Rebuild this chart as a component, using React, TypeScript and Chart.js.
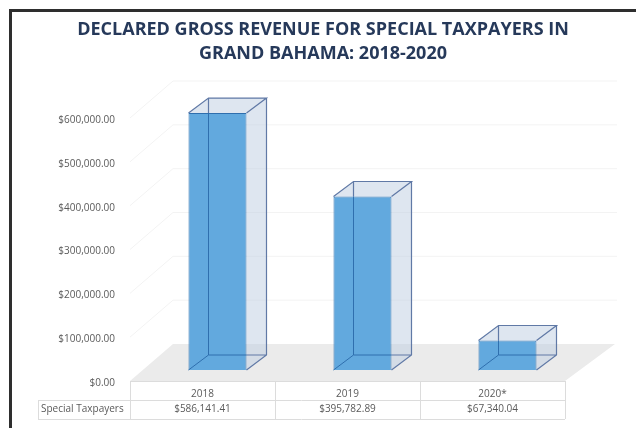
import React, { useEffect, useRef } from "react";
import { Chart, registerables } from "chart.js";

Chart.register(...registerables);

const titleLines = ["DECLARED GROSS REVENUE FOR SPECIAL TAXPAYERS IN", "GRAND BAHAMA: 2018-2020"];
const categories = ["2018", "2019", "2020*"];
const seriesName = "Special Taxpayers";
const seriesValues = [586141.41, 395782.89, 67340.04];
const yMax = 600000;
const yStep = 100000;

const FONT = "'Open Sans', sans-serif";
const money = (v: number) =>
  "$" + v.toLocaleString("en-US", { minimumFractionDigits: 2, maximumFractionDigits: 2 });

// Oblique projection used for the fake 3-D look
const BOX_DX = 20;
const BOX_DY = -15;
const FLOOR_DX = 43;
const FLOOR_DY = -37;
const FRONT_SHIFT_X = -15; // table / floor front edge relative to plot area
const FRONT_SHIFT_Y = 11;

const line = (c: CanvasRenderingContext2D, x1: number, y1: number, x2: number, y2: number) => {
  c.beginPath();
  c.moveTo(x1, y1);
  c.lineTo(x2, y2);
  c.stroke();
};

const scene = {
  id: "scene",
  beforeDatasetsDraw(chart: any) {
    const c: CanvasRenderingContext2D = chart.ctx;
    const { chartArea: a, scales } = chart;
    const y = scales.y;
    const fl = a.left + FRONT_SHIFT_X;
    const fr = a.right + FRONT_SHIFT_X;
    const fy = a.bottom + FRONT_SHIFT_Y;
    c.save();
    // back wall grid
    c.strokeStyle = "#f3f3f3";
    c.lineWidth = 1;
    y.ticks.forEach((t: any) => {
      const p = y.getPixelForValue(t.value) + FRONT_SHIFT_Y;
      if (t.value > 0) {
        line(c, fl, p, fl + FLOOR_DX, p + FLOOR_DY);
        line(c, fl + FLOOR_DX, p + FLOOR_DY, fr + 52, p + FLOOR_DY);
      }
    });
    // floor
    c.fillStyle = "#ebebeb";
    c.beginPath();
    c.moveTo(fl, fy);
    c.lineTo(fl + FLOOR_DX, fy + FLOOR_DY);
    c.lineTo(fr + 50, fy + FLOOR_DY);
    c.lineTo(fr, fy);
    c.closePath();
    c.fill();
    // boxes behind the front face
    chart.getDatasetMeta(0).data.forEach((b: any) => {
      const l = b.x - b.width / 2;
      const r = b.x + b.width / 2;
      const t = b.y;
      const bt = b.base;
      c.fillStyle = "rgba(190,205,225,0.5)";
      c.beginPath();
      c.moveTo(r, t);
      c.lineTo(r + BOX_DX, t + BOX_DY);
      c.lineTo(r + BOX_DX, bt + BOX_DY);
      c.lineTo(r, bt);
      c.closePath();
      c.fill();
      c.beginPath();
      c.moveTo(l, t);
      c.lineTo(l + BOX_DX, t + BOX_DY);
      c.lineTo(r + BOX_DX, t + BOX_DY);
      c.lineTo(r, t);
      c.closePath();
      c.fill();
      c.strokeStyle = "#6079a6";
      c.lineWidth = 1.2;
      c.beginPath();
      c.moveTo(l, t);
      c.lineTo(l + BOX_DX, t + BOX_DY);
      c.lineTo(r + BOX_DX, t + BOX_DY);
      c.lineTo(r, t);
      c.moveTo(r + BOX_DX, t + BOX_DY);
      c.lineTo(r + BOX_DX, bt + BOX_DY);
      c.lineTo(r, bt);
      c.moveTo(l + BOX_DX, t + BOX_DY);
      c.lineTo(l + BOX_DX, t);
      c.moveTo(r, bt + BOX_DY);
      c.lineTo(r + BOX_DX, bt + BOX_DY);
      c.stroke();
    });
    c.restore();
  },
  afterDatasetsDraw(chart: any) {
    const c: CanvasRenderingContext2D = chart.ctx;
    c.save();
    c.strokeStyle = "#2f6fae";
    c.lineWidth = 1;
    chart.getDatasetMeta(0).data.forEach((b: any) => {
      const l = b.x - b.width / 2;
      const r = b.x + b.width / 2;
      c.beginPath();
      c.moveTo(l + BOX_DX, b.y);
      c.lineTo(l + BOX_DX, b.base + BOX_DY);
      c.lineTo(r, b.base + BOX_DY);
      c.moveTo(l + BOX_DX, b.base + BOX_DY);
      c.lineTo(l, b.base);
      c.stroke();
    });
    c.restore();
  },
  beforeDraw(chart: any) {
    // data table grid
    const c: CanvasRenderingContext2D = chart.ctx;
    const { chartArea: a, scales } = chart;
    const x = scales.x;
    const top = a.bottom + FRONT_SHIFT_Y;
    const mid = top + 19;
    const bot = top + 38;
    const fl = a.left + FRONT_SHIFT_X;
    const fr = a.right + FRONT_SHIFT_X;
    const keyLeft = 38;
    c.save();
    c.strokeStyle = "#dcdcdc";
    c.lineWidth = 1;
    line(c, fl, top + 0.5, fr, top + 0.5);
    line(c, keyLeft, mid + 0.5, fr, mid + 0.5);
    line(c, keyLeft, bot + 0.5, fr, bot + 0.5);
    line(c, keyLeft + 0.5, mid, keyLeft + 0.5, bot);
    const step = x.width / categories.length;
    for (let i = 0; i <= categories.length; i++) {
      const px = Math.round(fl + i * step) + 0.5;
      line(c, px, top, px, bot);
    }
    c.fillStyle = "#5a5a5a";
    c.font = `10px ${FONT}`;
    c.textAlign = "left";
    c.textBaseline = "middle";
    c.fillText(seriesName, keyLeft + 3, mid + 9.5);
    c.restore();
  },
};

export default function App() {
  const ref = useRef<HTMLCanvasElement>(null);
  useEffect(() => {
    document.body.style.margin = "0";
    document.body.style.background = "#fff";
    const chart = new Chart(ref.current!, {
      type: "bar",
      data: {
        labels: categories,
        datasets: [
          {
            label: seriesName,
            data: seriesValues,
            backgroundColor: "#62a9de",
            borderColor: "#2f6fae",
            borderWidth: 1,
            categoryPercentage: 1,
            barPercentage: 0.4,
          },
        ],
      },
      options: {
        responsive: false,
        animation: false,
        layout: { autoPadding: false, padding: { left: 10, right: 0, top: 0, bottom: 0 } },
        plugins: {
          legend: { display: false },
          tooltip: { enabled: false },
          title: {
            display: true,
            text: titleLines,
            color: "#26395a",
            font: { family: FONT, size: 18, weight: "bold", lineHeight: 24 / 18 },
            padding: { top: 18, bottom: 41 },
          },
        },
        scales: {
          x: {
            grid: { display: false },
            border: { display: false },
            afterFit: (s: any) => {
              s.height = 58;
            },
            ticks: {
              autoSkip: false,
              maxRotation: 0,
              padding: 9,
              labelOffset: FRONT_SHIFT_X,
              color: "#5a5a5a",
              font: { family: FONT, size: 10, lineHeight: 1.5 },
              callback: (_v: any, i: number) => [categories[i], money(seriesValues[i])],
            },
          },
          y: {
            min: 0,
            max: yMax,
            grid: { display: false },
            border: { display: false },
            afterFit: (s: any) => {
              s.width = 135;
            },
            ticks: {
              stepSize: yStep,
              padding: 22,
              labelOffset: 13,
              color: "#5a5a5a",
              font: { family: FONT, size: 10 },
              callback: (v: any) => money(Number(v)),
            },
          },
          rightGutter: {
            type: "linear",
            position: "right",
            display: true,
            grid: { display: false },
            border: { display: false },
            ticks: { display: false },
            afterFit: (s: any) => {
              s.width = 56;
            },
          },
        },
      },
      plugins: [scene],
    } as any);
    return () => chart.destroy();
  }, []);
  return (
    <div style={{ position: "relative", width: 636, height: 428, overflow: "hidden" }}>
      <canvas ref={ref} width={636} height={428} style={{ display: "block" }} />
      <div
        style={{
          position: "absolute",
          left: 9,
          top: 9,
          right: 0,
          bottom: 0,
          borderTop: "3px solid #2e2e2e",
          borderLeft: "3px solid #2e2e2e",
        }}
      />
    </div>
  );
}
